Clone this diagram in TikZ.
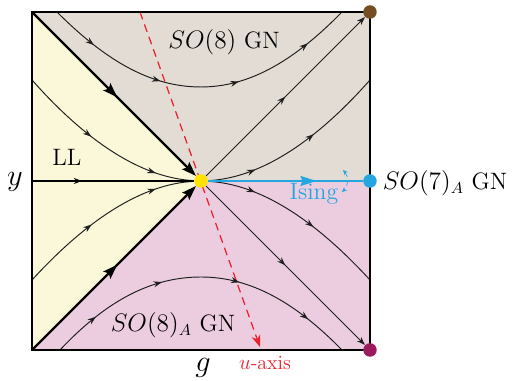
\documentclass[tikz,border=0pt]{standalone}
\usepackage{amsmath}
\usepackage{amssymb}
\usepackage{tikz}
\usetikzlibrary{arrows.meta,decorations.markings}

\definecolor{llyellow}{RGB}{250,248,216}
\definecolor{gnbrown}{RGB}{227,220,212}
\definecolor{gnpink}{RGB}{236,205,224}
\definecolor{fpyellow}{RGB}{255,226,0}
\definecolor{dotbrown}{RGB}{117,78,36}
\definecolor{isingblue}{RGB}{38,166,224}
\definecolor{dotmagenta}{RGB}{155,28,94}
\definecolor{uaxisred}{RGB}{236,32,44}

\begin{document}
\begin{tikzpicture}[x=0.02cm,y=0.02cm,>={Stealth[length=1.7mm,width=1.2mm]},
  flow/.style={black!88,line width=0.55pt},
  sep/.style={black,line width=1.3pt},
  dot/.style={circle,inner sep=0pt,minimum size=2.7mm},
  lbl/.style={inner sep=1pt,font=\fontsize{13.5}{16}\selectfont},
  axlbl/.style={inner sep=1pt,font=\fontsize{17.5}{20}\selectfont},
  mk/.style={postaction={decorate,decoration={markings,mark=at position #1 with {\arrow{Stealth[length=1.7mm,width=1.2mm]}}}}},
  bigmk/.style={postaction={decorate,decoration={markings,mark=at position #1 with {\arrow{Stealth[length=2.9mm,width=2mm,inset=0.5mm]}}}}}]
  \useasboundingbox (-201,-200) rectangle (311,181);
  \coordinate (tl) at (-169,169);
  \coordinate (tr) at (169,169);
  \coordinate (bl) at (-169,-169);
  \coordinate (br) at (169,-169);
  \coordinate (ml) at (-169,0);
  \coordinate (mr) at (169,0);
  \coordinate (c) at (0,0);
  \fill[llyellow] (tl) -- (c) -- (bl) -- cycle;
  \fill[gnbrown] (tl) -- (tr) -- (mr) -- (c) -- cycle;
  \fill[gnpink] (bl) -- (c) -- (mr) -- (br) -- cycle;
  \coordinate (ua) at (-61,169);
  \coordinate (ub) at (59,-166);
  \draw[uaxisred,line width=0.7pt,dash pattern=on 4.5pt off 3pt,-{Stealth[length=2.4mm,width=1.8mm]}] (ua) -- (ub);
  \node[dot,fill=fpyellow] (fp) at (c) {};
  \coordinate (c1a) at (-144,169);
  \coordinate (c1b) at (141,169);
  \coordinate (c6a) at (-141,-169);
  \coordinate (c6b) at (141,-169);
  \coordinate (c4a) at (-169,101);
  \coordinate (c5a) at (-169,-99);
  \coordinate (c3b) at (169,101);
  \coordinate (c8b) at (169,-99);
  \draw[flow,mk/.list={0.15,0.38,0.62,0.86}] (c1a) .. controls (-95,120) and (-50,94) .. (0,94) .. controls (50,94) and (95,122) .. (c1b);
  \draw[flow,mk/.list={0.15,0.38,0.62,0.86}] (c6a) .. controls (-95,-120) and (-50,-96) .. (0,-96) .. controls (50,-96) and (95,-122) .. (c6b);
  \draw[flow,mk/.list={0.42,0.8}] (c4a) .. controls (-115,40) and (-60,3) .. (fp);
  \draw[flow,mk/.list={0.42,0.8}] (c5a) .. controls (-115,-40) and (-60,-3) .. (fp);
  \draw[flow,mk/.list={0.25,0.6}] (fp) .. controls (60,3) and (115,40) .. (c3b);
  \draw[flow,mk/.list={0.25,0.6}] (fp) .. controls (60,-3) and (115,-40) .. (c8b);
  \draw[black,line width=1.4pt] (tl) -- (tr) -- (br) -- (bl) -- cycle;
  \node[dot,fill=dotbrown] (so8) at (tr) {};
  \node[dot,fill=isingblue] (so7) at (mr) {};
  \node[dot,fill=dotmagenta] (so8a) at (br) {};
  \draw[flow,mk=0.5,->] (fp) -- (so8);
  \draw[flow,mk=0.5,->] (fp) -- (so8a);
  \draw[sep,bigmk=0.52,-{Stealth[length=2.9mm,width=2mm,inset=0.5mm]}] (tl) -- (fp);
  \draw[sep,bigmk=0.52,-{Stealth[length=2.9mm,width=2mm,inset=0.5mm]}] (bl) -- (fp);
  \draw[black,line width=1.1pt,mk=0.31] (ml) -- (fp);
  \draw[isingblue,line width=1.2pt,postaction={decorate,decoration={markings,mark=at position 0.7 with {\arrow{Stealth[length=3.2mm,width=2mm,inset=0.4mm]}}}}] (fp) -- (so7);
  \coordinate (ib1) at (142,11);
  \coordinate (ib2) at (141,-11);
  \draw[isingblue,line width=0.4pt,densely dashed,{Stealth[length=1mm,width=0.9mm]}-{Stealth[length=1mm,width=0.9mm]}] (ib1) to[bend left=45] (ib2);
  \node[lbl] (lso8) at (23,139) {$SO(8)$ GN};
  \node[lbl] (lso8a) at (-28,-144) {$SO(8)_A$ GN};
  \node[lbl] (lso7) at (244,-2) {$SO(7)_A$ GN};
  \node[lbl,text=isingblue] (ising) at (113,-13) {Ising};
  \node[lbl] (ll) at (-134,24) {LL};
  \node[lbl,text=uaxisred,font=\fontsize{11.5}{13}\selectfont] (uax) at (64,-182) {$u$-axis};
  \node[axlbl] (yax) at (-186,-1) {$y$};
  \node[axlbl] (gax) at (2,-187) {$g$};
\end{tikzpicture}
\end{document}
